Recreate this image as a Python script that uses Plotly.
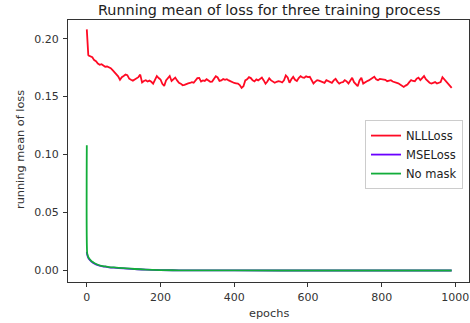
import plotly.graph_objects as go

# ---- data ----
nll_epochs = [0, 1, 2, 3, 4] + list(range(5, 991, 5))
nll_values = [
    0.208, 0.197, 0.191, 0.188, 0.186,
    0.1855, 0.1845, 0.1840, 0.1815, 0.1805, 0.1785, 0.1775, 0.1780, 0.1765, 0.1758,
    0.1760, 0.1752, 0.1745, 0.1728, 0.1712, 0.1695, 0.1675, 0.1645, 0.1668, 0.1678,
    0.1690, 0.1685, 0.1655, 0.1645, 0.1638, 0.1648, 0.1658, 0.1668, 0.1690, 0.1622,
    0.1635, 0.1642, 0.1630, 0.1638, 0.1628, 0.1612, 0.1645, 0.1678, 0.1660, 0.1648,
    0.1610, 0.1592, 0.1640, 0.1665, 0.1678, 0.1635, 0.1650, 0.1664, 0.1640, 0.1620,
    0.1612, 0.1598, 0.1602, 0.1612, 0.1615, 0.1618, 0.1625, 0.1620, 0.1640, 0.1660,
    0.1662, 0.1630, 0.1640, 0.1635, 0.1650, 0.1640, 0.1628, 0.1630, 0.1650, 0.1675,
    0.1665, 0.1635, 0.1640, 0.1652, 0.1645, 0.1650, 0.1640, 0.1632, 0.1622, 0.1618,
    0.1615, 0.1612, 0.1600, 0.1575, 0.1590, 0.1640, 0.1650, 0.1668, 0.1660, 0.1640,
    0.1632, 0.1648, 0.1640, 0.1655, 0.1665, 0.1640, 0.1612, 0.1630, 0.1658, 0.1640,
    0.1628, 0.1620, 0.1628, 0.1634, 0.1630, 0.1622, 0.1640, 0.1682, 0.1665, 0.1620,
    0.1650, 0.1670, 0.1645, 0.1634, 0.1660, 0.1677, 0.1665, 0.1663, 0.1675, 0.1668,
    0.1671, 0.1645, 0.1614, 0.1630, 0.1642, 0.1638, 0.1633, 0.1625, 0.1619, 0.1642,
    0.1635, 0.1625, 0.1619, 0.1640, 0.1653, 0.1630, 0.1613, 0.1622, 0.1625, 0.1642,
    0.1632, 0.1613, 0.1640, 0.1663, 0.1625, 0.1605, 0.1590, 0.1640, 0.1663, 0.1613,
    0.1625, 0.1633, 0.1640, 0.1648, 0.1660, 0.1671, 0.1650, 0.1642, 0.1653, 0.1650,
    0.1653, 0.1645, 0.1633, 0.1640, 0.1642, 0.1630, 0.1625, 0.1625, 0.1615, 0.1605,
    0.1595, 0.1584, 0.1595, 0.1605, 0.1625, 0.1642, 0.1635, 0.1633, 0.1655, 0.1663,
    0.1642, 0.1660, 0.1677, 0.1650, 0.1633, 0.1620, 0.1613, 0.1619, 0.1625, 0.1613,
    0.1620, 0.1625, 0.1668, 0.1650, 0.1633, 0.1620, 0.1600, 0.1576,
]

low_epochs = [0, 1, 2, 3, 5, 10, 15, 20, 30, 40, 50, 60, 80, 100, 130, 160, 200,
              250, 300, 400, 600, 800, 990]
mse_values = [0.0160, 0.0140, 0.0128, 0.0118, 0.0104, 0.0085, 0.0071, 0.0061, 0.0047,
              0.0038, 0.0033, 0.0028, 0.0023, 0.0018, 0.0012, 0.0007, 0.0004,
              0.0002, 0.0001, 0.00005, 0.00003, 0.00002, 0.00001]
nomask_values = [0.1080, 0.0150, 0.0135, 0.0125, 0.0110, 0.0090, 0.0075, 0.0065, 0.0050,
                 0.0040, 0.0035, 0.0030, 0.0025, 0.0020, 0.0013, 0.0008, 0.0004,
                 0.0002, 0.0001, 0.00005, 0.00003, 0.00002, 0.00001]

x_ticks = [0, 200, 400, 600, 800, 1000]
y_ticks = [0.00, 0.05, 0.10, 0.15, 0.20]
y_tick_labels = ["0.00", "0.05", "0.10", "0.15", "0.20"]

FONT = "DejaVu Sans"
W, H = 470, 323
L, R, T, B = 68, 1, 20, 41

fig = go.Figure()
fig.add_trace(go.Scatter(x=nll_epochs, y=nll_values, mode="lines", name="NLLLoss",
                         line=dict(color="#ff0a24", width=1.8)))
fig.add_trace(go.Scatter(x=low_epochs, y=mse_values, mode="lines", name="MSELoss",
                         line=dict(color="#6a00ff", width=1.8, shape="spline")))
fig.add_trace(go.Scatter(x=low_epochs, y=nomask_values, mode="lines", name="No mask",
                         line=dict(color="#12ad3a", width=1.8, shape="spline")))

axis_common = dict(showline=True, linecolor="#333333", linewidth=1, mirror=True,
                   ticks="outside", ticklen=4, tickcolor="#333333", showgrid=False,
                   zeroline=False, automargin=False,
                   tickfont=dict(family=FONT, size=11, color="#333333"))

fig.update_layout(
    width=W, height=H,
    margin=dict(l=L, r=R, t=T, b=B, autoexpand=False),
    paper_bgcolor="white", plot_bgcolor="white",
    xaxis=dict(range=[-51, 1037], tickvals=x_ticks, ticklabelstandoff=1, **axis_common),
    yaxis=dict(range=[-0.0099, 0.2161], tickvals=y_ticks, ticktext=y_tick_labels,
               ticklabelstandoff=2, **axis_common),
    legend=dict(x=0.985, y=0.618, xanchor="right", yanchor="top",
                bgcolor="white", bordercolor="#cccccc", borderwidth=1,
                font=dict(family=FONT, size=11.5, color="#222222"),
                itemwidth=30, tracegroupgap=0),
    showlegend=True,
    annotations=[
        dict(text="Running mean of loss for three training process",
             xref="paper", yref="paper", x=0.5, y=1 + (T - 10) / (H - T - B),
             xanchor="center", yanchor="middle", showarrow=False,
             font=dict(family=FONT, size=14.4, color="#222222")),
        dict(text="epochs", xref="paper", yref="paper", x=0.5,
             y=-(313 - (H - B)) / (H - T - B), xanchor="center", yanchor="middle",
             showarrow=False, font=dict(family=FONT, size=11.3, color="#333333")),
        dict(text="running mean of loss", xref="paper", yref="paper",
             x=-(L - 20) / (W - L - R), y=(H - B - 150) / (H - T - B),
             xanchor="center", yanchor="middle", textangle=-90, showarrow=False,
             font=dict(family=FONT, size=11.3, color="#333333")),
    ],
)

fig.write_html("out.html", config={"displayModeBar": False},
               post_script="document.body.style.margin='0';document.body.style.overflow='hidden';")
